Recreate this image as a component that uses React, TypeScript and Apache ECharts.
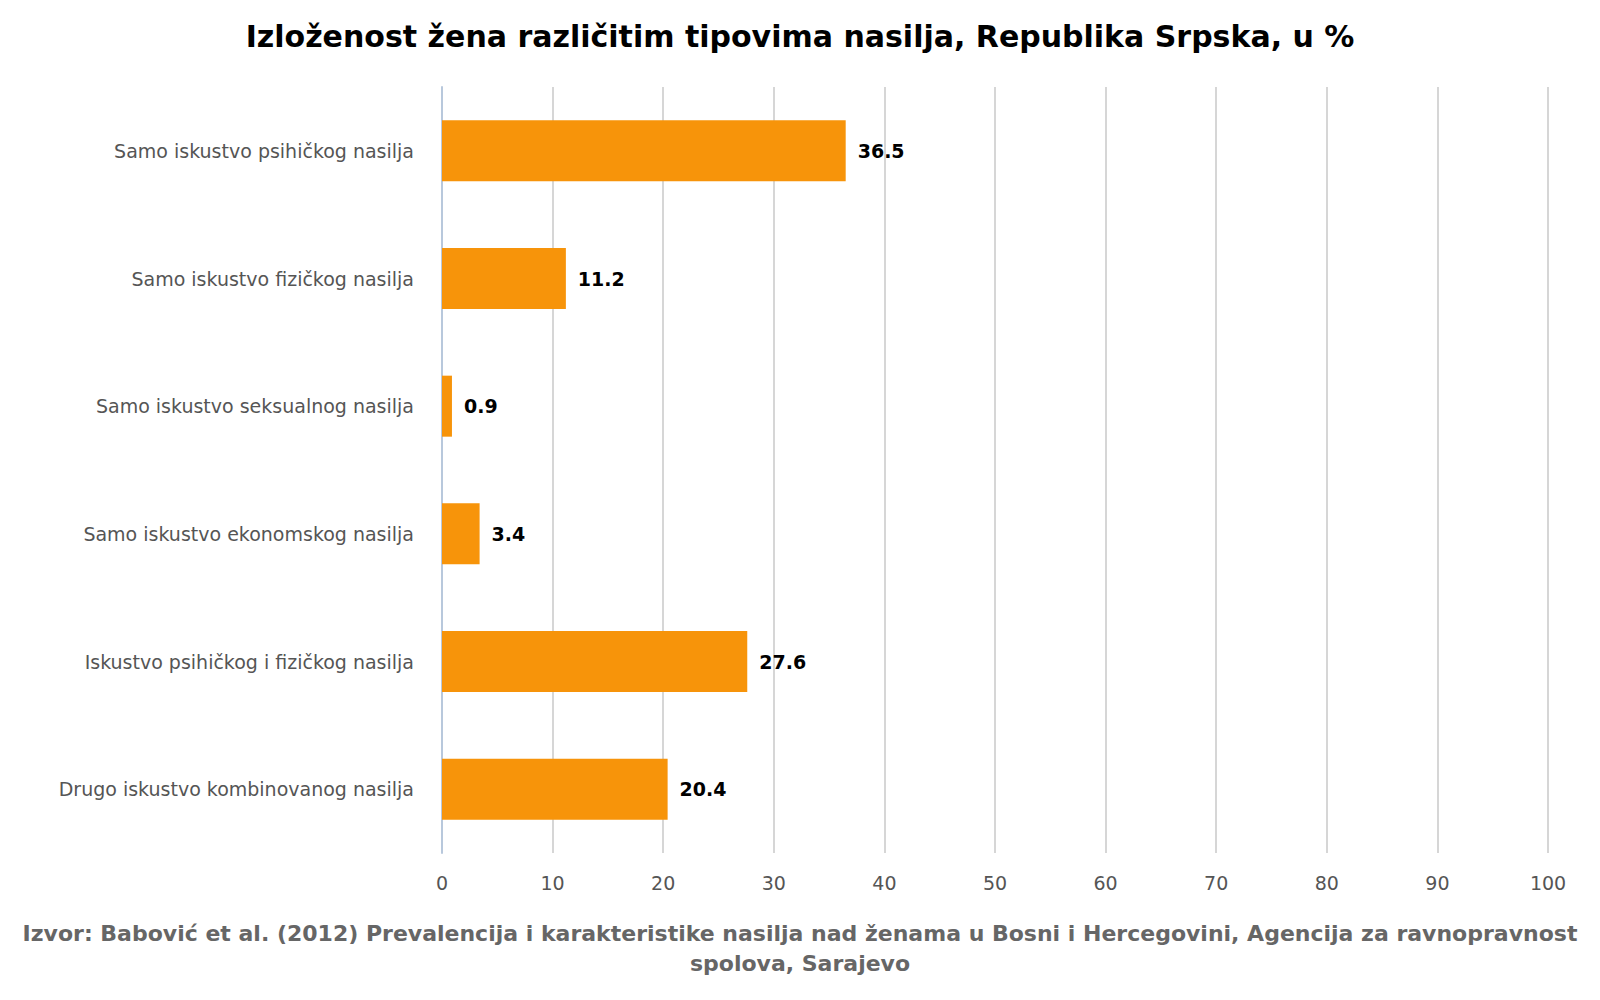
import * as echarts from 'echarts';
import { useEffect, useRef } from 'react';

const categories = [
  'Samo iskustvo psihičkog nasilja',
  'Samo iskustvo fizičkog nasilja',
  'Samo iskustvo seksualnog nasilja',
  'Samo iskustvo ekonomskog nasilja',
  'Iskustvo psihičkog i fizičkog nasilja',
  'Drugo iskustvo kombinovanog nasilja',
];
const values = [36.5, 11.2, 0.9, 3.4, 27.6, 20.4];
const title = 'Izloženost žena različitim tipovima nasilja, Republika Srpska, u %';
const source =
  'Izvor: Babović et al. (2012) Prevalencija i karakteristike nasilja nad ženama u Bosni i Hercegovini, Agencija za ravnopravnost\nspolova, Sarajevo';

export default function App() {
  const ref = useRef<HTMLDivElement | null>(null);

  useEffect(() => {
    document.body.style.margin = '0';
    if (!ref.current) return undefined;
    const chart = echarts.init(ref.current, undefined, { renderer: 'svg' });
    chart.setOption({
      animation: false,
      textStyle: { fontFamily: 'DejaVu Sans' },
      title: {
        text: title,
        left: 'center',
        top: 16,
        textStyle: { fontSize: 30, fontWeight: 'bold', color: '#000', fontFamily: 'DejaVu Sans' },
      },
      grid: { left: 442, right: 52, top: 87, bottom: 147 },
      xAxis: {
        type: 'value',
        min: 0,
        max: 100,
        interval: 10,
        axisLine: { show: false },
        axisTick: { show: false },
        axisLabel: { fontSize: 19, color: '#555', margin: 20 },
        splitLine: { lineStyle: { color: '#d6d6d6', width: 2 } },
      },
      yAxis: {
        type: 'category',
        data: categories,
        inverse: true,
        axisLine: { lineStyle: { color: '#b8c8dc', width: 2 } },
        axisTick: { length: 17, lineStyle: { color: '#b8c8dc', width: 2 } },
        axisLabel: { fontSize: 19, color: '#555', margin: 28 },
      },
      series: [
        {
          type: 'bar',
          data: values,
          barWidth: 61,
          itemStyle: { color: '#F7940A' },
          label: {
            show: true,
            position: 'right',
            distance: 12,
            fontSize: 19,
            fontWeight: 'bold',
            color: '#000',
          },
        },
      ],
      graphic: [
        {
          type: 'text',
          x: 800,
          y: 918,
          style: {
            text: source,
            textAlign: 'center',
            fontSize: 22,
            fontWeight: 'bold',
            fill: '#666',
            lineHeight: 30,
            fontFamily: 'DejaVu Sans',
          },
        },
      ],
    });
    return () => chart.dispose();
  }, []);

  return <div ref={ref} style={{ width: 1600, height: 1000 }} />;
}
